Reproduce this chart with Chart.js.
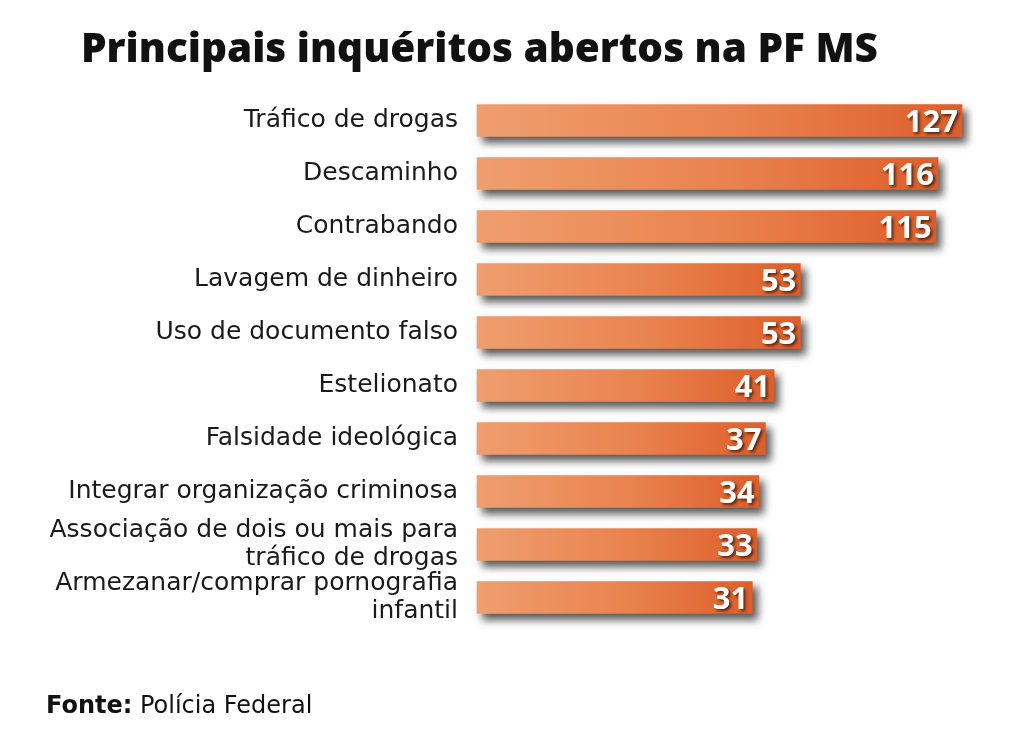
<!DOCTYPE html>
<html>
<head>
<meta charset="utf-8">
<script src="https://cdn.jsdelivr.net/npm/chart.js@4.4.1/dist/chart.umd.min.js"></script>
<style>
  html, body { margin: 0; padding: 0; background: #fff; }
  #wrap { position: relative; width: 1024px; height: 748px; overflow: hidden; }
  #title { position: absolute; left: 81px; top: 19px; font: 800 40.5px "Open Sans", sans-serif; color: #111; white-space: nowrap; }
  #source { position: absolute; left: 46px; top: 691px; font: 400 24px "DejaVu Sans", sans-serif; color: #111; white-space: nowrap; }
  #source b { font-weight: 700; }
  canvas { position: absolute; left: 0; top: 0; }
</style>
</head>
<body>
<div id="wrap">
  <canvas id="chart" width="1024" height="748"></canvas>
  <div id="title">Principais inquéritos abertos na PF MS</div>
  <div id="source"><b>Fonte:</b> Polícia Federal</div>
</div>
<script>
// categories (multi-line ones as arrays)
const categories = [
  "Tráfico de drogas",
  "Descaminho",
  "Contrabando",
  "Lavagem de dinheiro",
  "Uso de documento falso",
  "Estelionato",
  "Falsidade ideológica",
  "Integrar organização criminosa",
  ["Associação de dois ou mais para", "tráfico de drogas"],
  ["Armezanar/comprar pornografia", "infantil"],
];
const inqueritos = [127, 116, 115, 53, 53, 41, 37, 34, 33, 31];

// the original graphic is not drawn from zero
const axisMin = -95;
const axisMax = 127;

const ctx = document.getElementById("chart").getContext("2d");

// gradient for each bar, light on the left, darker at the end
function barGradient(context) {
  const chart = context.chart;
  const area = chart.chartArea;
  if (!area) return "#e67a45";
  const xScale = chart.scales.x;
  const end = xScale.getPixelForValue(context.raw);
  const g = chart.ctx.createLinearGradient(area.left, 0, end, 0);
  g.addColorStop(0, "#ef9e6f");
  g.addColorStop(0.55, "#e9824d");
  g.addColorStop(1, "#dd5e2b");
  return g;
}

// drop shadow under the bars
const barShadow = {
  id: "barShadow",
  beforeDatasetsDraw(chart) {
    const c = chart.ctx;
    c.save();
    c.shadowColor = "rgba(0,0,0,0.65)";
    c.shadowBlur = 8;
    c.shadowOffsetX = 5;
    c.shadowOffsetY = 6;
  },
  afterDatasetsDraw(chart) {
    chart.ctx.restore();
  },
};

// white numbers at the end of each bar
const valueLabels = {
  id: "valueLabels",
  afterDatasetsDraw(chart) {
    const c = chart.ctx;
    const meta = chart.getDatasetMeta(0);
    c.save();
    c.font = "700 31px 'Open Sans', sans-serif";
    c.fillStyle = "#fff";
    c.textAlign = "right";
    c.textBaseline = "middle";
    c.shadowColor = "rgba(60,20,0,0.8)";
    c.shadowBlur = 3;
    c.shadowOffsetX = 2;
    c.shadowOffsetY = 2;
    meta.data.forEach((bar, i) => {
      c.fillText(String(inqueritos[i]), bar.x - 4, bar.y + 3);
    });
    c.restore();
  },
};

new Chart(ctx, {
  type: "bar",
  data: {
    labels: categories,
    datasets: [
      {
        data: inqueritos,
        base: axisMin,
        backgroundColor: barGradient,
        borderWidth: 0,
        barThickness: 32,
        clip: false,
      },
    ],
  },
  options: {
    indexAxis: "y",
    responsive: false,
    animation: false,
    layout: { padding: { top: 94, bottom: 124, left: 0, right: 62 } },
    plugins: {
      legend: { display: false },
      tooltip: { enabled: false },
    },
    scales: {
      x: { display: false, min: axisMin, max: axisMax },
      y: {
        grid: { display: false, drawTicks: false },
        border: { display: false },
        ticks: {
          autoSkip: false,
          color: "#1a1a1a",
          padding: 19,
          font: { family: "'DejaVu Sans', sans-serif", size: 25, lineHeight: 1.1 },
        },
        afterFit(scale) {
          scale.width = 477;
        },
      },
    },
  },
  plugins: [barShadow, valueLabels],
});
</script>
</body>
</html>
